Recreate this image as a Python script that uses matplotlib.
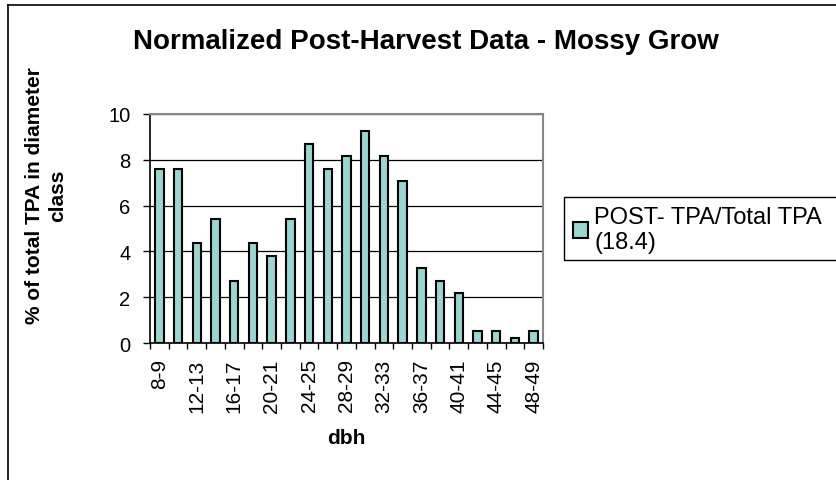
import matplotlib.pyplot as plt
import numpy as np

# diameter classes (dbh) and normalized post-harvest TPA percentages
classes = ['8-9', '10-11', '12-13', '14-15', '16-17', '18-19', '20-21',
           '22-23', '24-25', '26-27', '28-29', '30-31', '32-33', '34-35',
           '36-37', '38-39', '40-41', '42-43', '44-45', '46-47', '48-49']
pct = [7.6, 7.6, 4.35, 5.43, 2.72, 4.35, 3.8, 5.43, 8.7, 7.6, 8.15,
       9.24, 8.15, 7.07, 3.26, 2.72, 2.17, 0.54, 0.54, 0.2, 0.54]
series_name = 'POST- TPA/Total TPA\n(18.4)'

plt.rcParams['font.family'] = ['Liberation Sans', 'DejaVu Sans']

fig = plt.figure(figsize=(8.36, 4.81), dpi=100)
ax = fig.add_axes([150/836, 1 - 344/481, 393/836, 229/481])

x = np.arange(len(classes))
bars = ax.bar(x, pct, width=0.45, color='#99d6d2', edgecolor='black',
              linewidth=1.5, label=series_name, zorder=3)

ax.set_xlim(-0.5, len(classes) - 0.5)
ax.set_ylim(0, 10)
ax.set_yticks(np.arange(0, 11, 2))
ax.yaxis.grid(True, color='black', linewidth=0.9, zorder=0)

# labels on every other class, tick marks between classes
ax.set_xticks(x[::2])
ax.set_xticklabels(classes[::2], rotation=90, fontsize=15)
ax.tick_params(axis='x', length=0, pad=11)
ax.set_xticks(np.arange(-0.5, len(classes)), minor=True)
ax.tick_params(axis='x', which='minor', length=4.5, width=1, direction='out')
ax.tick_params(axis='y', labelsize=14.5, length=5, width=1, pad=9)

for side in ('top', 'right'):
    ax.spines[side].set_color('#888888')
    ax.spines[side].set_linewidth(1.5)
for side in ('left', 'bottom'):
    ax.spines[side].set_color('black')
    ax.spines[side].set_linewidth(1.2)

ax.set_xlabel('dbh', fontsize=15, fontweight='bold', labelpad=12)
fig.text(46/836, 1 - 196/481, '% of total TPA in diameter\nclass',
         rotation=90, ha='center', va='center', fontsize=15,
         fontweight='bold', linespacing=1.3)
fig.text(426/836, 1 - 42/481, 'Normalized Post-Harvest Data - Mossy Grow',
         ha='center', va='center', fontsize=20, fontweight='bold')

leg = fig.legend(handles=[bars], labels=[series_name],
                 loc='upper left', bbox_to_anchor=(566/836, 1 - 200/481),
                 fontsize=17, frameon=False,
                 handlelength=0.65, handleheight=0.65, handletextpad=0.25,
                 borderpad=0.3, borderaxespad=0, labelspacing=0)

# legend box runs past the right edge of the picture
fig.add_artist(plt.Rectangle((564/836, 1 - 261/481), 300/836, 63/481,
                             fill=False, edgecolor='black', linewidth=1,
                             transform=fig.transFigure))

# outer chart frame (cut off at the right and bottom)
fig.add_artist(plt.Line2D([8/836, 1], [1 - 6/481] * 2, color='black',
                          linewidth=1.2, transform=fig.transFigure))
fig.add_artist(plt.Line2D([8/836] * 2, [0, 1 - 6/481], color='black',
                          linewidth=1.2, transform=fig.transFigure))

fig.savefig('out.png', dpi=100)
